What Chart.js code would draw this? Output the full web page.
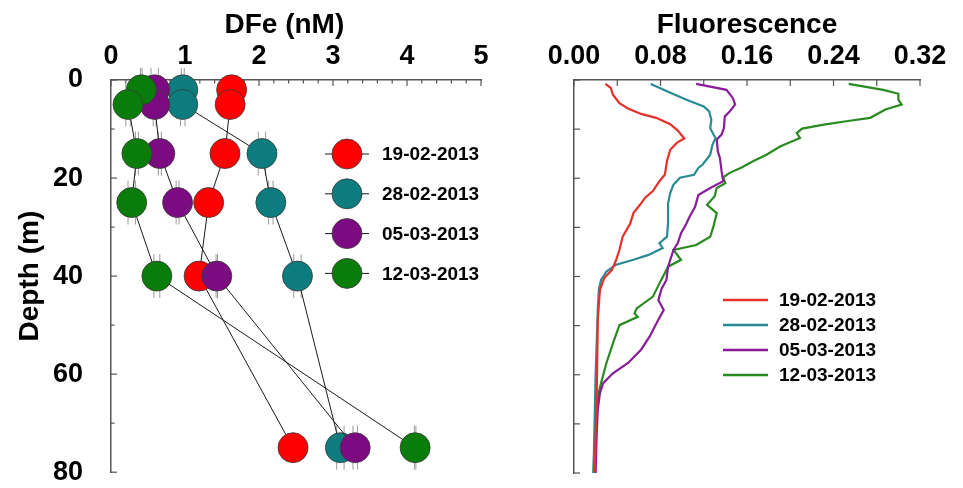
<!DOCTYPE html>
<html>
<head>
<meta charset="utf-8">
<script src="https://cdn.jsdelivr.net/npm/chart.js@4.4.1/dist/chart.umd.min.js"></script>
<style>
  html, body { margin: 0; padding: 0; background: #fff; }
  #wrap { position: relative; width: 963px; height: 488px; }
  #dfeChart { position: absolute; left: 0; top: 0; }
  #fluoChart { position: absolute; left: 500px; top: 0; }
</style>
</head>
<body>
<div id="wrap">
  <canvas id="dfeChart" width="500" height="488"></canvas>
  <canvas id="fluoChart" width="463" height="488"></canvas>
</div>
<script>
// ---- data ----
const seriesLabels = ['19-02-2013', '28-02-2013', '05-03-2013', '12-03-2013'];
const markerColors = ['#ff0000', '#0c7c7e', '#7c0a80', '#0a7c0a'];
const lineColors   = ['#e8302a', '#2a8a94', '#8a1c9a', '#2a8a22'];

// DFe profiles (nM) at sampling depths (m)
const dfeDepth  = [2, 5, 15, 25, 40, 75];
const dfeRed    = [1.63, 1.61, 1.54, 1.32, 1.19, 2.46];
const dfeTeal   = [0.97, 0.97, 2.04, 2.16, 2.52, 3.10];
const dfePurple = [0.59, 0.59, 0.66, 0.90, 1.43, 3.30];
const dfeGreen  = [0.41, 0.23, 0.35, 0.28, 0.62, 4.11];
// half-width of the x error bars (nM)
const errRed    = [0, 0, 0, 0, 0, 0];
const errTeal   = [0.02, 0.03, 0.05, 0.03, 0.05, 0.05];
const errPurple = [0.05, 0.02, 0.02, 0.02, 0.01, 0.03];
const errGreen  = [0.01, 0.03, 0.02, 0.05, 0.04, 0.01];

// fluorescence profiles
const fluoRedDepth = [0.8, 1.6, 3.0, 4.7, 5.8, 6.9, 7.7, 9.0, 10.3, 11.9, 12.8, 14.2, 16.5, 19.3, 20.6, 22.6, 23.9, 25.4, 27.1, 29.2, 31.9, 34.6, 36.6, 38.7, 40.3, 42.7, 48.8, 65, 79.8];
const fluoRed      = [0.029, 0.034, 0.036, 0.042, 0.050, 0.062, 0.076, 0.089, 0.096, 0.102, 0.095, 0.089, 0.086, 0.084, 0.079, 0.073, 0.066, 0.061, 0.055, 0.052, 0.045, 0.042, 0.039, 0.035, 0.028, 0.024, 0.022, 0.021, 0.019];

const fluoTealDepth = [0.8, 2.3, 4.0, 5.4, 6.4, 8.1, 9.8, 11.1, 11.8, 13.2, 15.2, 17.2, 17.9, 19.3, 19.9, 21.3, 23.0, 25.1, 29.2, 31.9, 33.2, 34.2, 35.6, 36.6, 37.6, 39.0, 40.7, 42.7, 46.8, 60, 70, 80];
const fluoTeal      = [0.071, 0.086, 0.104, 0.120, 0.125, 0.127, 0.126, 0.129, 0.131, 0.128, 0.126, 0.119, 0.115, 0.111, 0.098, 0.092, 0.089, 0.087, 0.087, 0.086, 0.079, 0.082, 0.069, 0.055, 0.039, 0.030, 0.025, 0.023, 0.022, 0.020, 0.019, 0.018];

const fluoPurpleDepth = [0.8, 2.0, 3.7, 5.0, 6.4, 7.4, 9.8, 11.1, 12.1, 14.5, 15.9, 18.6, 20.6, 22.0, 23.4, 25.8, 27.8, 29.2, 31.2, 33.2, 34.6, 38.0, 40.7, 42.5, 44.8, 46.8, 48.8, 52.2, 54.9, 57.6, 59.7, 61.7, 63.7, 67.1, 71.9, 80];
const fluoPurple      = [0.113, 0.141, 0.147, 0.149, 0.144, 0.1395, 0.1386, 0.1365, 0.132, 0.133, 0.135, 0.1365, 0.138, 0.126, 0.115, 0.112, 0.107, 0.104, 0.099, 0.096, 0.092, 0.087, 0.0855, 0.081, 0.078, 0.083, 0.078, 0.070, 0.062, 0.050, 0.036, 0.027, 0.024, 0.022, 0.021, 0.020];

const fluoGreenDepth = [0.8, 2.0, 2.8, 4.0, 5.0, 6.0, 7.7, 8.3, 9.1, 9.9, 10.8, 11.8, 13.5, 15.2, 16.5, 17.8, 18.9, 19.8, 21.0, 22.0, 23.7, 25.4, 27.1, 29.8, 31.9, 33.6, 34.6, 36.6, 38.0, 41.4, 44.1, 46.5, 47.5, 48.2, 49.9, 53.6, 57.6, 61.7, 64.4, 68.5, 80];
const fluoGreen      = [0.254, 0.286, 0.300, 0.300, 0.303, 0.288, 0.274, 0.255, 0.231, 0.211, 0.206, 0.209, 0.191, 0.178, 0.166, 0.155, 0.144, 0.138, 0.140, 0.132, 0.130, 0.123, 0.132, 0.129, 0.126, 0.113, 0.092, 0.099, 0.087, 0.079, 0.073, 0.058, 0.056, 0.059, 0.042, 0.036, 0.030, 0.025, 0.022, 0.020, 0.018];

// tick labels
const dfeTicks   = [0, 1, 2, 3, 4, 5];
const depthTicks = [0, 20, 40, 60, 80];
const fluoTicks  = ['0.00', '0.08', '0.16', '0.24', '0.32'];

// ---- helpers / plugins ----
Chart.defaults.font.family = "'Liberation Sans', Arial, sans-serif";
Chart.defaults.color = '#000';

const axisGray = '#555';
const tickFont = { size: 27, weight: 'bold', lineHeight: 1 };
const titleFont = { size: 28, weight: 'bold', lineHeight: 1.2 };

// short tick marks pointing into the plot
const innerTicks = {
  id: 'innerTicks',
  beforeDatasetsDraw(chart, args, opts) {
    const ctx = chart.ctx;
    ctx.save();
    ctx.strokeStyle = axisGray;
    ctx.lineWidth = 1.2;
    ['x', 'y'].forEach(id => {
      const s = chart.scales[id];
      s.ticks.forEach(t => {
        const len = (opts.allMajor || t.label !== '') ? opts.major : opts.minor;
        const p = s.getPixelForValue(t.value);
        ctx.beginPath();
        if (id === 'x') { ctx.moveTo(p, s.bottom); ctx.lineTo(p, s.bottom + len); }
        else { ctx.moveTo(s.right, p); ctx.lineTo(s.right + len, p); }
        ctx.stroke();
      });
    });
    ctx.restore();
  }
};

// error bar caps (the bar itself hides behind the marker)
const errorCaps = {
  id: 'errorCaps',
  beforeDatasetsDraw(chart) {
    const ctx = chart.ctx, xs = chart.scales.x, ys = chart.scales.y;
    ctx.save();
    ctx.strokeStyle = '#9a9a9a';
    ctx.lineWidth = 1;
    chart.data.datasets.forEach(ds => {
      if (!ds.xErr) return;
      ds.data.forEach((pt, k) => {
        const e = ds.xErr[k];
        if (!e) return;
        const py = ys.getPixelForValue(pt.y);
        [pt.x - e, pt.x + e].forEach(v => {
          const px = xs.getPixelForValue(v);
          ctx.beginPath();
          ctx.moveTo(px, py - 22);
          ctx.lineTo(px, py + 22);
          ctx.stroke();
        });
      });
    });
    ctx.restore();
  }
};

// legend drawn at fixed spot inside the plot
const sideLegend = {
  id: 'sideLegend',
  afterDraw(chart, args, o) {
    const ctx = chart.ctx;
    ctx.save();
    ctx.font = 'bold 19px ' + Chart.defaults.font.family;
    ctx.textBaseline = 'middle';
    ctx.textAlign = 'left';
    chart.data.datasets.forEach((ds, i) => {
      const y = o.top + i * o.gap;
      ctx.beginPath();
      ctx.strokeStyle = o.marker ? '#1a1a1a' : ds.borderColor;
      ctx.lineWidth = o.lineWidth;
      ctx.moveTo(o.x1, y);
      ctx.lineTo(o.x2, y);
      ctx.stroke();
      if (o.marker) {
        ctx.beginPath();
        ctx.arc((o.x1 + o.x2) / 2, y, o.marker, 0, Math.PI * 2);
        ctx.fillStyle = ds.pointBackgroundColor;
        ctx.fill();
        ctx.strokeStyle = '#3a3a3a';
        ctx.lineWidth = 0.8;
        ctx.stroke();
      }
      ctx.fillStyle = '#000';
      ctx.fillText(ds.label, o.textX, y + 1);
    });
    ctx.restore();
  }
};

function depthAxis(showLabels, width) {
  return {
    type: 'linear', position: 'left', reverse: true, min: 0, max: 80,
    ticks: {
      display: showLabels, stepSize: 10, autoSkip: false, padding: 20,
      font: tickFont, color: '#000',
      callback: v => depthTicks.includes(v) ? String(v) : ''
    },
    grid: { display: false },
    border: { display: true, color: axisGray, width: 1.5 },
    title: { display: showLabels, text: 'Depth (m)', font: titleFont, color: '#000', padding: { top: 13, bottom: 0 } },
    afterFit: s => { s.width = width; s.paddingTop = 0; s.paddingBottom = 0; }
  };
}

// ---- left panel: DFe ----
const dfeSeries = [dfeRed, dfeTeal, dfePurple, dfeGreen];
const dfeErrors = [errRed, errTeal, errPurple, errGreen];

new Chart(document.getElementById('dfeChart'), {
  type: 'scatter',
  data: {
    datasets: dfeSeries.map((vals, i) => ({
      label: seriesLabels[i],
      data: vals.map((v, k) => ({ x: v, y: dfeDepth[k] })),
      xErr: dfeErrors[i],
      showLine: true,
      borderColor: '#1a1a1a',
      borderWidth: 1,
      pointRadius: 15,
      pointHoverRadius: 15,
      pointBackgroundColor: markerColors[i],
      pointBorderColor: '#3a3a3a',
      pointBorderWidth: 0.8,
      order: 4 - i,
      clip: false
    }))
  },
  options: {
    responsive: false,
    animation: false,
    events: [],
    layout: { padding: { top: 0, left: 0, right: 19, bottom: 14 } },
    plugins: {
      legend: { display: false },
      tooltip: { enabled: false },
      innerTicks: { major: 6, minor: 3.5 },
      sideLegend: { x1: 325, x2: 369, textX: 382, top: 154, gap: 39.8, marker: 15, lineWidth: 1 }
    },
    scales: {
      x: {
        type: 'linear', position: 'top', min: 0, max: 5,
        ticks: {
          stepSize: 0.2, autoSkip: false, maxRotation: 0, padding: 2,
          font: tickFont, color: '#000',
          callback: v => dfeTicks.includes(Math.round(v * 10) / 10) ? String(v) : ''
        },
        grid: { display: false },
        border: { display: true, color: axisGray, width: 1.5 },
        title: { display: true, text: 'DFe (nM)   ', font: titleFont, color: '#000', padding: { top: 8, bottom: 0 } },
        afterFit: s => { s.height = 80; }
      },
      y: depthAxis(true, 111)
    }
  },
  plugins: [innerTicks, errorCaps, sideLegend]
});

// ---- right panel: fluorescence ----
const fluoSeries = [
  [fluoRedDepth, fluoRed],
  [fluoTealDepth, fluoTeal],
  [fluoPurpleDepth, fluoPurple],
  [fluoGreenDepth, fluoGreen]
];

new Chart(document.getElementById('fluoChart'), {
  type: 'scatter',
  data: {
    datasets: fluoSeries.map(([depth, vals], i) => ({
      label: seriesLabels[i],
      data: vals.map((v, k) => ({ x: v, y: depth[k] })),
      showLine: true,
      borderColor: lineColors[i],
      borderWidth: 2.2,
      pointRadius: 0,
      tension: 0,
      clip: false
    }))
  },
  options: {
    responsive: false,
    animation: false,
    events: [],
    layout: { padding: { top: 0, left: 0, right: 43, bottom: 15 } },
    plugins: {
      legend: { display: false },
      tooltip: { enabled: false },
      innerTicks: { major: 6, minor: 6, allMajor: true },
      sideLegend: { x1: 223, x2: 268, textX: 279, top: 300, gap: 25, marker: 0, lineWidth: 2.5 }
    },
    scales: {
      x: {
        type: 'linear', position: 'top', min: 0, max: 0.32,
        ticks: {
          stepSize: 0.04, autoSkip: false, maxRotation: 0, padding: 2,
          font: tickFont, color: '#000',
          callback: v => fluoTicks.includes(v.toFixed(2)) ? v.toFixed(2) : ''
        },
        grid: { display: false },
        border: { display: true, color: axisGray, width: 1.5 },
        title: { display: true, text: 'Fluorescence', font: titleFont, color: '#000', padding: { top: 8, bottom: 0 } },
        afterFit: s => { s.height = 80; }
      },
      y: depthAxis(false, 74)
    }
  },
  plugins: [innerTicks, sideLegend]
});
</script>
</body>
</html>
